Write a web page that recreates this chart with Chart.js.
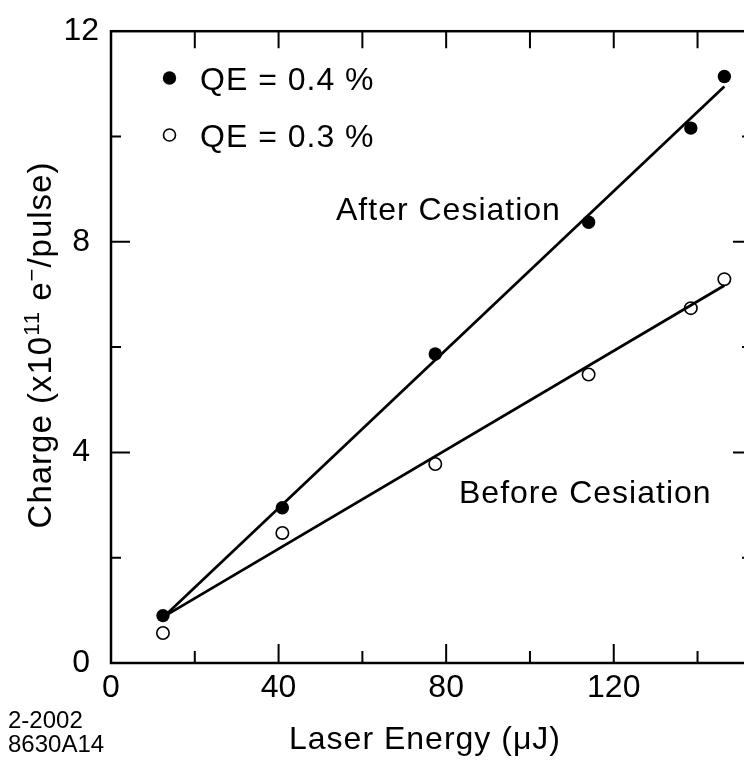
<!DOCTYPE html>
<html>
<head>
<meta charset="utf-8">
<script src="https://cdn.jsdelivr.net/npm/chart.js@4.4.0/dist/chart.umd.min.js"></script>
<style>
  html, body { margin: 0; padding: 0; background: #fff; overflow: hidden; }
  #wrap { width: 760px; height: 764px; }
</style>
</head>
<body>
<div id="wrap"><canvas id="chart" width="760" height="764"></canvas></div>
<script>
// laser energy (uJ) for both runs
const energy = [12.4, 40.9, 77.4, 114.0, 138.4, 146.4];
// charge, 1e11 e-/pulse
const chargeAfter = [0.90, 2.95, 5.87, 8.37, 10.16, 11.14];
const chargeBefore = [0.57, 2.47, 3.78, 5.48, 6.74, 7.29];
// straight-line fits (end points)
const fitX = [12.6, 146.4];
const fitAfter = [0.88, 10.95];
const fitBefore = [0.88, 7.17];

const xTicks = [0, 40, 80, 120];
const yTicks = [0, 4, 8, 12];
const seriesLabels = ['QE = 0.4 %', 'QE = 0.3 %'];
const curveLabels = ['After Cesiation', 'Before Cesiation'];

const FONT = "'Liberation Sans', Arial, Helvetica, sans-serif";
Chart.defaults.font.family = FONT;
Chart.defaults.color = '#000';

function pts(xs, ys) {
  return xs.map((x, i) => ({ x: x, y: ys[i] }));
}

function textSpaced(ctx, str, x, y, size, spacing) {
  ctx.font = size + 'px ' + FONT;
  ctx.letterSpacing = spacing + 'px';
  ctx.fillText(str, x, y);
  return ctx.measureText(str).width;
}

const framePlugin = {
  id: 'frame',
  afterDraw(chart) {
    const ctx = chart.ctx;
    const a = chart.chartArea;
    const xs = chart.scales.x, ys = chart.scales.y;
    ctx.save();
    ctx.strokeStyle = '#000';
    ctx.fillStyle = '#000';

    // frame
    ctx.lineWidth = 2.5;
    ctx.strokeRect(a.left, a.top, a.right - a.left, a.bottom - a.top);

    // inward tick marks
    ctx.lineWidth = 2;
    ctx.beginPath();
    for (let v = 20; v < xs.max; v += 20) {
      const px = xs.getPixelForValue(v);
      const len = v % 40 === 0 ? 19 : 12;
      ctx.moveTo(px, a.bottom); ctx.lineTo(px, a.bottom - len);
      ctx.moveTo(px, a.top); ctx.lineTo(px, a.top + 17);
    }
    for (let v = 2; v < ys.max; v += 2) {
      const py = ys.getPixelForValue(v);
      const len = v % 4 === 0 ? 19 : 10;
      ctx.moveTo(a.left, py); ctx.lineTo(a.left + len, py);
      ctx.moveTo(a.right, py); ctx.lineTo(a.right - len, py);
    }
    ctx.stroke();

    // legend
    ctx.textBaseline = 'alphabetic';
    ctx.textAlign = 'left';
    ctx.beginPath();
    ctx.arc(169.5, 78, 6.7, 0, Math.PI * 2);
    ctx.fill();
    ctx.lineWidth = 1.6;
    ctx.beginPath();
    ctx.arc(169.5, 135, 6, 0, Math.PI * 2);
    ctx.stroke();
    textSpaced(ctx, seriesLabels[0], 200, 90, 32, 1);
    textSpaced(ctx, seriesLabels[1], 200, 147, 32, 1);

    // curve labels
    textSpaced(ctx, curveLabels[0], 336, 220, 32, 1);
    textSpaced(ctx, curveLabels[1], 459, 503, 32, 1);

    // x title
    ctx.textAlign = 'center';
    textSpaced(ctx, 'Laser Energy (\u03bcJ)', 425, 749, 32, 1);

    // figure id
    ctx.textAlign = 'left';
    textSpaced(ctx, '2-2002', 8, 728, 24, 0);
    textSpaced(ctx, '8630A14', 8, 752, 24, 0);

    // y title with superscripts
    const parts = [
      { t: 'Charge (x10', s: 33, dy: 0 },
      { t: '11', s: 22, dy: -12 },
      { t: ' e', s: 33, dy: 0 },
      { t: '\u2212', s: 22, dy: -12 },
      { t: '/pulse)', s: 33, dy: 0 }
    ];
    let total = 0;
    parts.forEach(p => {
      ctx.font = p.s + 'px ' + FONT;
      ctx.letterSpacing = '1px';
      p.w = ctx.measureText(p.t).width;
      total += p.w;
    });
    ctx.translate(51, 345);
    ctx.rotate(-Math.PI / 2);
    let cx = -total / 2;
    parts.forEach(p => {
      textSpaced(ctx, p.t, cx, p.dy, p.s, 1);
      cx += p.w;
    });
    ctx.restore();
  }
};

new Chart(document.getElementById('chart'), {
  type: 'scatter',
  data: {
    datasets: [
      {
        label: seriesLabels[0],
        data: pts(energy, chargeAfter),
        pointRadius: 6.7,
        pointBackgroundColor: '#000',
        pointBorderColor: '#000',
        pointBorderWidth: 0
      },
      {
        label: seriesLabels[1],
        data: pts(energy, chargeBefore),
        pointRadius: 6.2,
        pointBackgroundColor: 'rgba(0,0,0,0)',
        pointBorderColor: '#000',
        pointBorderWidth: 1.6
      },
      {
        label: curveLabels[0],
        data: pts(fitX, fitAfter),
        showLine: true,
        pointRadius: 0,
        borderColor: '#000',
        borderWidth: 2.7
      },
      {
        label: curveLabels[1],
        data: pts(fitX, fitBefore),
        showLine: true,
        pointRadius: 0,
        borderColor: '#000',
        borderWidth: 2.7
      }
    ]
  },
  options: {
    responsive: false,
    animation: false,
    layout: { padding: { left: 0, right: 8, top: 28, bottom: 0 } },
    plugins: {
      legend: { display: false },
      tooltip: { enabled: false }
    },
    scales: {
      x: {
        type: 'linear',
        min: 0,
        max: 153,
        grid: { display: false, drawTicks: false },
        border: { display: false },
        ticks: {
          stepSize: 20,
          includeBounds: false,
          autoSkip: false,
          maxRotation: 0,
          padding: 6,
          color: '#000',
          font: { size: 32 },
          callback: v => xTicks.includes(v) ? String(v) : ''
        },
        afterFit: s => { s.height = 101; }
      },
      y: {
        min: 0,
        max: 12,
        grid: { display: false, drawTicks: false },
        border: { display: false },
        ticks: {
          stepSize: 2,
          crossAlign: 'center',
          padding: 12,
          color: '#000',
          font: { size: 32 },
          callback: v => yTicks.includes(v) ? String(v) : ''
        },
        afterFit: s => { s.width = 111; }
      }
    }
  },
  plugins: [framePlugin]
});
</script>
</body>
</html>
